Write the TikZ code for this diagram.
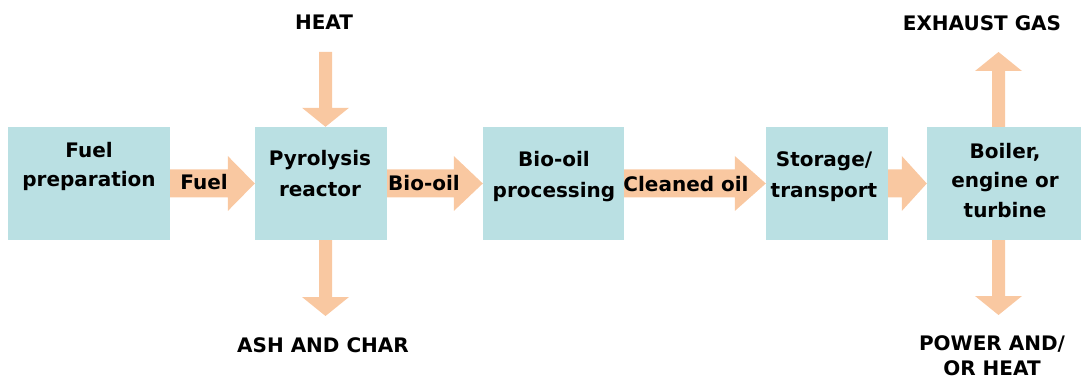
\documentclass[tikz,border=0pt]{standalone}
\usepackage{fontspec}
\setmainfont{DejaVu Sans}
\usetikzlibrary{calc}
\definecolor{boxblue}{RGB}{186,224,227}
\definecolor{flowpeach}{RGB}{249,200,161}
% horizontal flow arrow from node #1 (east) to node #2 (west), head length #3
\newcommand\hflow[3]{%
  \fill[flow] ($(#1.east)+(0,-14)$) -- ($(#2.west)+(-#3,-14)$) -- ($(#2.west)+(-#3,-27.5)$)
    -- (#2.west) -- ($(#2.west)+(-#3,27.5)$) -- ($(#2.west)+(-#3,14)$) -- ($(#1.east)+(0,14)$) -- cycle;}
% vertical flow arrow pointing down: from #1 (top) to tip #2
\newcommand\downflow[2]{%
  \fill[flow] ($(#1)+(-6.5,0)$) -- ($(#2)+(-6.5,-19)$) -- ($(#2)+(-23.5,-19)$) -- (#2)
    -- ($(#2)+(23.5,-19)$) -- ($(#2)+(6.5,-19)$) -- ($(#1)+(6.5,0)$) -- cycle;}
% vertical flow arrow pointing up: from #1 (bottom) to tip #2
\newcommand\upflow[2]{%
  \fill[flow] ($(#1)+(-6.5,0)$) -- ($(#2)+(-6.5,19)$) -- ($(#2)+(-23.5,19)$) -- (#2)
    -- ($(#2)+(23.5,19)$) -- ($(#2)+(6.5,19)$) -- ($(#1)+(6.5,0)$) -- cycle;}
\begin{document}
\begin{tikzpicture}[x=1pt,y=-1pt,
  box/.style={fill=boxblue, draw=none, inner sep=0pt, minimum height=113pt},
  flow/.style={fill=flowpeach, draw=none},
  lbl/.style={font={\bfseries\fontsize{20}{29.5}\selectfont}, inner sep=0pt, align=center, text=black},
  lblw/.style={lbl, font={\bfseries\fontsize{20}{31}\selectfont}},
  lblc/.style={lbl, font={\bfseries\fontsize{20}{25}\selectfont}}]
\useasboundingbox (0,0) rectangle (1081,379);
% boxes
\node[box, minimum width=162pt] (b1) at (89,183.5) {};
\node[box, minimum width=132pt] (b2) at (321,183.5) {};
\node[box, minimum width=141pt] (b3) at (553.5,183.5) {};
\node[box, minimum width=122pt] (b4) at (827,183.5) {};
\node[box, minimum width=154pt] (b5) at (1004,183.5) {};
% horizontal flows
\hflow{b1}{b2}{27}
\hflow{b2}{b3}{29}
\hflow{b3}{b4}{31}
\hflow{b4}{b5}{25}
% vertical flows
\coordinate (heatsrc) at (325.5,52);
\coordinate (heattip) at (b2.north -| heatsrc);
\coordinate (ashsrc) at (b2.south -| heatsrc);
\coordinate (ashtip) at (325.5,316);
\coordinate (exhtip) at (998.5,52);
\coordinate (exhsrc) at (b5.north -| exhtip);
\coordinate (powtip) at (998.5,315);
\coordinate (powsrc) at (b5.south -| powtip);
\downflow{heatsrc}{heattip}
\downflow{ashsrc}{ashtip}
\upflow{exhsrc}{exhtip}
\downflow{powsrc}{powtip}
% box texts
\node[lbl, anchor=north] (t1) at (89,141.8) {Fuel\\preparation};
\node[lblw, anchor=north] (t2) at (320,149.8) {Pyrolysis\\reactor};
\node[lblw, anchor=north] (t3) at (554,150.8) {Bio-oil\\processing};
\node[lblw, anchor=north] (t4) at (824,151.2) {Storage/\\transport};
\node[lbl, anchor=north] (t5) at (1005,142.8) {Boiler,\\engine or\\turbine};
% flow labels
\node[lbl, anchor=base] (l1) at (204,190) {Fuel};
\node[lbl, anchor=base] (l2) at (424,191) {Bio-oil};
\node[lbl, anchor=base] (l3) at (686,192) {Cleaned oil};
% outer labels
\node[lbl, anchor=base] (heat) at (324,30) {HEAT};
\node[lbl, anchor=base] (ash) at (323,352) {ASH AND CHAR};
\node[lbl, anchor=base] (exh) at (982,31) {EXHAUST GAS};
\node[lblc, anchor=north] (pow) at (992,335.5) {POWER AND/\\OR HEAT};
\end{tikzpicture}
\end{document}
